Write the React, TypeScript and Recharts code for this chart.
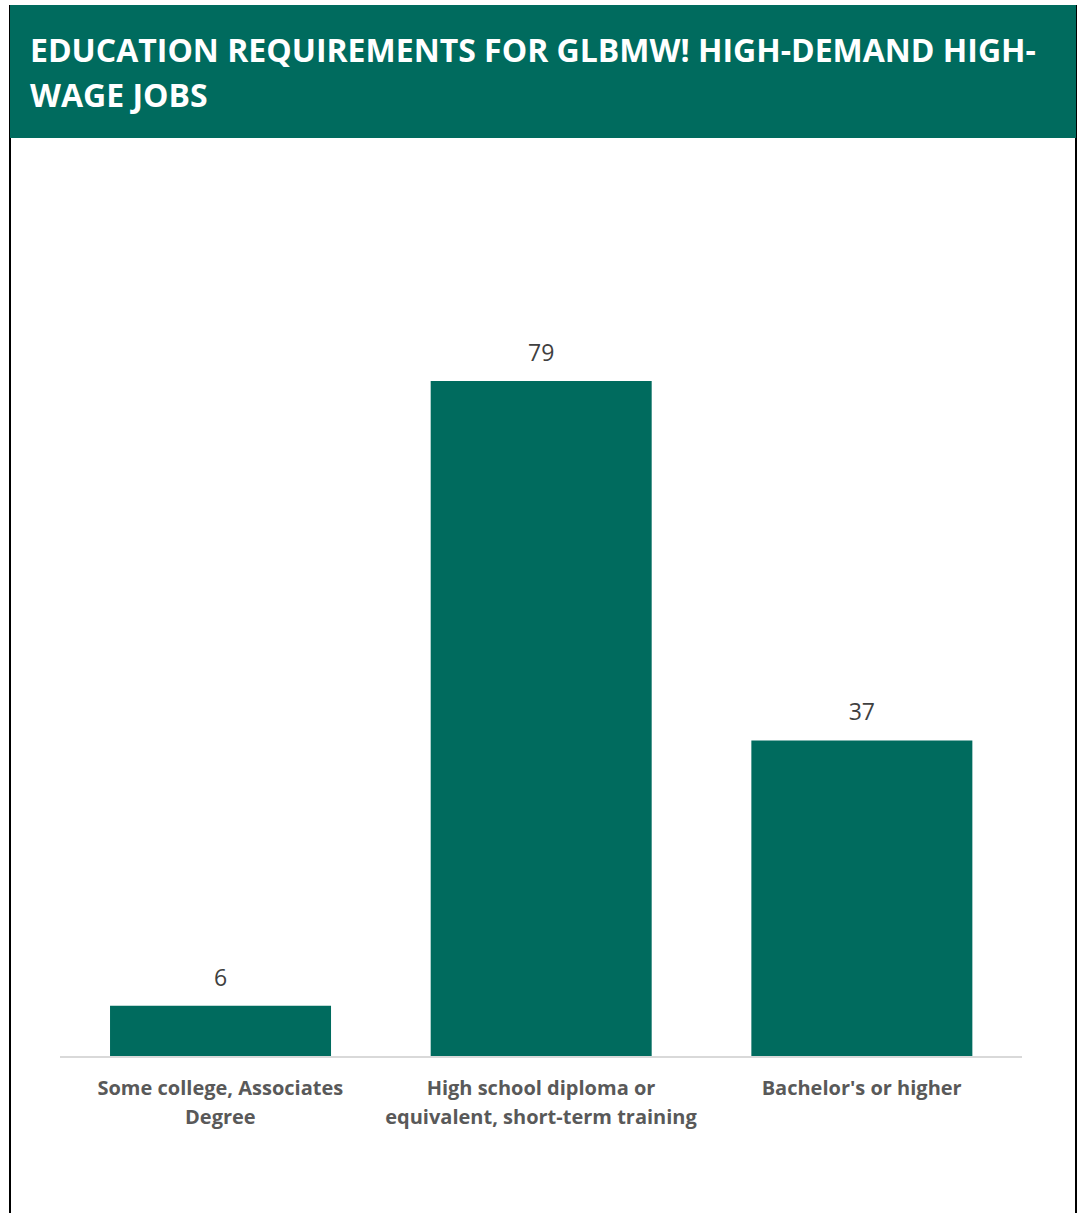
import { BarChart, Bar, XAxis, YAxis, LabelList } from 'recharts';

const GREEN = '#006B5E';

// category labels, "\n" marks the line break used in the original
const categories = [
  'Some college, Associates\nDegree',
  'High school diploma or\nequivalent, short-term training',
  "Bachelor's or higher",
];
const jobs = [6, 79, 37];

const data = categories.map((name, i) => ({ name, value: jobs[i] }));

const FONT = '"Open Sans", sans-serif';

function CategoryTick(props: any) {
  const { x, y, payload } = props;
  const lines: string[] = String(payload.value).split('\n');
  return (
    <g transform={`translate(${x},${y})`}>
      {lines.map((line, i) => (
        <text
          key={i}
          x={0}
          y={30 + i * 29}
          textAnchor="middle"
          fill="#595959"
          fontFamily={FONT}
          fontWeight={700}
          fontSize={20}
        >
          {line}
        </text>
      ))}
    </g>
  );
}

export default function App() {
  return (
    <div style={{ position: 'absolute', left: 0, top: 0, width: 1077, height: 1213, overflow: 'hidden', background: 'white' }}>
      <div
        style={{
          position: 'absolute',
          left: 9,
          top: 5,
          width: 1064,
          height: 1300,
          borderLeft: '2px solid black',
          borderRight: '2px solid black',
        }}
      />
      <div
        style={{
          position: 'absolute',
          left: 10,
          top: 5,
          width: 1066,
          height: 133,
          background: GREEN,
          color: 'white',
          fontFamily: FONT,
          fontWeight: 700,
          fontSize: 32,
          lineHeight: '45px',
          boxSizing: 'border-box',
          padding: '22px 0 0 20px',
        }}
      >
        EDUCATION REQUIREMENTS FOR GLBMW! HIGH-DEMAND HIGH-
        <br />
        WAGE JOBS
      </div>
      <div style={{ position: 'absolute', left: 0, top: 0 }}>
        <BarChart
          width={1077}
          height={1213}
          data={data}
          margin={{ top: 287, right: 55, bottom: 0, left: 60 }}
          barCategoryGap="15.6%"
        >
          <XAxis
            dataKey="name"
            axisLine={{ stroke: '#D9D9D9', strokeWidth: 2 }}
            tickLine={false}
            tick={<CategoryTick />}
            interval={0}
            height={156}
          />
          <YAxis hide domain={[0, 90]} />
          <Bar dataKey="value" fill={GREEN} isAnimationActive={false}>
            <LabelList
              dataKey="value"
              position="top"
              offset={20}
              fill="#404040"
              fontFamily={FONT}
              fontSize={23}
            />
          </Bar>
        </BarChart>
      </div>
    </div>
  );
}
